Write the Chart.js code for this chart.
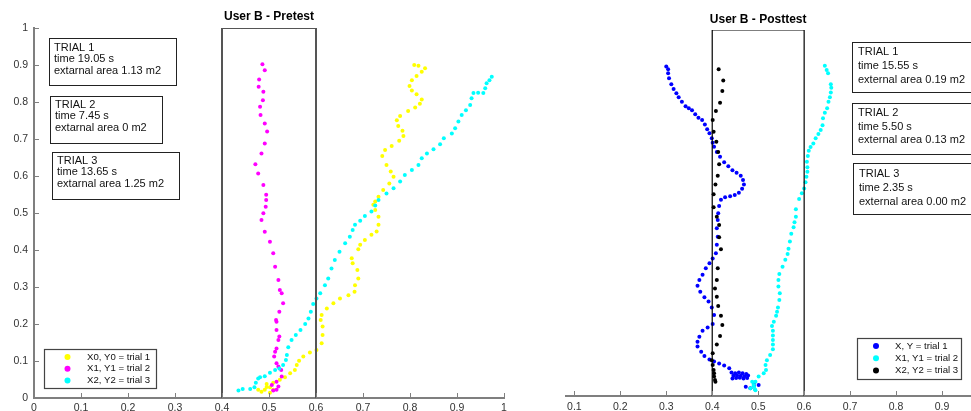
<!DOCTYPE html>
<html>
<head>
<meta charset="utf-8">
<script src="https://cdn.jsdelivr.net/npm/chart.js@4.4.0/dist/chart.umd.min.js"></script>
<style>
  html, body { margin: 0; padding: 0; background: #fff; overflow: hidden; width: 971px; height: 411px; }
  #left { position: absolute; left: 0; top: 0; }
  #right { position: absolute; left: 562px; top: 0; }
</style>
</head>
<body>
<canvas id="left" width="520" height="430"></canvas>
<canvas id="right" width="446" height="430"></canvas>
<script>
// ---- tick labels ----
const tickVals = [0, 0.1, 0.2, 0.3, 0.4, 0.5, 0.6, 0.7, 0.8, 0.9, 1];
const tickText = ['0', '0.1', '0.2', '0.3', '0.4', '0.5', '0.6', '0.7', '0.8', '0.9', '1'];

// ---- pretest (left) ----
// trial 1, yellow
const preX0 = [0.484,0.491,0.502,0.509,0.477,0.495,0.502,0.495,0.509,0.523,0.534,0.545,0.555,0.559,0.564,0.573,0.587,0.601,0.612,0.614,0.614,0.610,0.612,0.623,0.637,0.651,0.669,0.682,0.683,0.690,0.688,0.678,0.676,0.690,0.694,0.704,0.718,0.729,0.733,0.733,0.726,0.722,0.726,0.733,0.743,0.756,0.765,0.759,0.750,0.741,0.747,0.761,0.777,0.786,0.784,0.775,0.772,0.779,0.796,0.811,0.821,0.825,0.814,0.804,0.799,0.804,0.814,0.825,0.832,0.818,0.809];
const preY0 = [0.017,0.022,0.014,0.022,0.022,0.030,0.029,0.038,0.041,0.049,0.056,0.067,0.076,0.089,0.101,0.112,0.123,0.130,0.148,0.170,0.193,0.211,0.224,0.242,0.256,0.269,0.278,0.287,0.305,0.323,0.346,0.364,0.378,0.402,0.414,0.427,0.441,0.450,0.468,0.490,0.508,0.522,0.531,0.544,0.562,0.580,0.598,0.612,0.630,0.654,0.670,0.681,0.695,0.708,0.722,0.735,0.751,0.762,0.776,0.785,0.795,0.807,0.821,0.831,0.843,0.859,0.870,0.882,0.891,0.898,0.900];
// trial 2, magenta
const preX1 = [0.509,0.516,0.506,0.516,0.520,0.527,0.526,0.520,0.516,0.511,0.513,0.516,0.520,0.522,0.516,0.516,0.515,0.522,0.530,0.527,0.523,0.520,0.513,0.509,0.502,0.491,0.484,0.488,0.493,0.494,0.494,0.488,0.477,0.471,0.484,0.491,0.496,0.491,0.482,0.481,0.487,0.488,0.478,0.479,0.491,0.486];
const preY1 = [0.020,0.022,0.035,0.044,0.031,0.058,0.076,0.085,0.094,0.112,0.125,0.134,0.157,0.166,0.184,0.206,0.211,0.233,0.256,0.283,0.292,0.319,0.355,0.391,0.422,0.449,0.481,0.499,0.517,0.535,0.549,0.576,0.607,0.632,0.661,0.688,0.720,0.742,0.765,0.787,0.805,0.828,0.841,0.861,0.886,0.902];
// trial 3, cyan
const preX2 = [0.435,0.444,0.460,0.469,0.472,0.477,0.481,0.491,0.502,0.513,0.522,0.530,0.536,0.538,0.541,0.548,0.557,0.567,0.577,0.584,0.589,0.594,0.601,0.609,0.619,0.626,0.633,0.640,0.650,0.662,0.672,0.678,0.683,0.694,0.704,0.718,0.726,0.733,0.750,0.765,0.779,0.789,0.804,0.818,0.825,0.836,0.850,0.864,0.872,0.889,0.896,0.903,0.910,0.919,0.928,0.931,0.935,0.945,0.956,0.960,0.963,0.969,0.974];
const preY2 = [0.020,0.024,0.024,0.029,0.041,0.053,0.056,0.059,0.068,0.076,0.080,0.089,0.103,0.116,0.137,0.157,0.170,0.184,0.200,0.215,0.233,0.254,0.269,0.283,0.305,0.323,0.350,0.373,0.395,0.418,0.436,0.454,0.468,0.479,0.492,0.504,0.520,0.535,0.553,0.567,0.585,0.603,0.616,0.630,0.648,0.661,0.672,0.686,0.702,0.715,0.729,0.747,0.765,0.778,0.792,0.810,0.824,0.825,0.824,0.837,0.851,0.859,0.868];

// ---- posttest (right) ----
// trial 1, blue
const postX = [0.300,0.304,0.304,0.306,0.311,0.316,0.322,0.327,0.334,0.342,0.349,0.356,0.363,0.370,0.378,0.384,0.389,0.394,0.399,0.401,0.404,0.410,0.417,0.426,0.435,0.444,0.453,0.462,0.467,0.469,0.465,0.458,0.449,0.439,0.428,0.419,0.415,0.413,0.412,0.410,0.412,0.410,0.408,0.401,0.394,0.386,0.379,0.372,0.368,0.374,0.383,0.392,0.399,0.404,0.401,0.390,0.379,0.372,0.368,0.368,0.376,0.383,0.394,0.404,0.415,0.426,0.437,0.442,0.450,0.458,0.466,0.474,0.446,0.454,0.462,0.470,0.478,0.444,0.452,0.460,0.468,0.476,0.473,0.483,0.491,0.501,0.491];
const postY = [0.900,0.893,0.882,0.868,0.852,0.839,0.827,0.816,0.804,0.792,0.786,0.781,0.770,0.760,0.754,0.742,0.729,0.718,0.704,0.692,0.681,0.667,0.654,0.639,0.628,0.617,0.610,0.602,0.590,0.578,0.566,0.555,0.549,0.546,0.543,0.536,0.519,0.499,0.481,0.458,0.435,0.413,0.390,0.376,0.363,0.349,0.331,0.317,0.301,0.285,0.270,0.258,0.242,0.221,0.197,0.187,0.178,0.162,0.148,0.135,0.121,0.109,0.100,0.094,0.089,0.083,0.076,0.064,0.062,0.064,0.062,0.060,0.055,0.056,0.055,0.054,0.056,0.048,0.049,0.050,0.048,0.049,0.025,0.021,0.027,0.030,0.036];
// trial 2, cyan
const postX1 = [0.645,0.649,0.652,0.658,0.659,0.658,0.656,0.653,0.650,0.645,0.641,0.640,0.636,0.631,0.625,0.620,0.614,0.610,0.608,0.606,0.607,0.607,0.605,0.603,0.600,0.595,0.589,0.582,0.582,0.579,0.577,0.572,0.569,0.566,0.564,0.559,0.553,0.546,0.544,0.544,0.547,0.546,0.543,0.541,0.539,0.534,0.530,0.532,0.532,0.532,0.532,0.532,0.526,0.519,0.516,0.517,0.512,0.501,0.494,0.487,0.490,0.491,0.483,0.493,0.494];
const postY1 = [0.902,0.891,0.882,0.852,0.842,0.829,0.816,0.804,0.786,0.774,0.759,0.740,0.727,0.716,0.704,0.690,0.680,0.670,0.656,0.640,0.625,0.613,0.599,0.584,0.567,0.554,0.538,0.510,0.490,0.475,0.461,0.443,0.422,0.402,0.388,0.372,0.353,0.333,0.317,0.299,0.281,0.262,0.242,0.230,0.219,0.203,0.191,0.178,0.165,0.153,0.141,0.128,0.112,0.098,0.085,0.071,0.062,0.053,0.039,0.039,0.030,0.025,0.021,0.018,0.016];
// trial 3, black
const postX2 = [0.414,0.424,0.422,0.417,0.408,0.401,0.403,0.409,0.413,0.415,0.412,0.407,0.403,0.403,0.410,0.415,0.415,0.419,0.412,0.410,0.406,0.410,0.413,0.419,0.422,0.417,0.410,0.401,0.399,0.401,0.403,0.404,0.404,0.406,0.407];
const postY2 = [0.893,0.862,0.833,0.801,0.779,0.754,0.722,0.695,0.667,0.633,0.602,0.578,0.551,0.516,0.490,0.467,0.434,0.401,0.349,0.317,0.294,0.271,0.246,0.219,0.194,0.164,0.141,0.117,0.098,0.085,0.071,0.062,0.053,0.044,0.039];

// the target zone drawn as a box
const zoneX = [0.4, 0.4, 0.6, 0.6];
const zoneY = [0, 1, 1, 0];

// notes and legend text
const preNotes = [
  ['TRIAL 1', 'time 19.05 s', 'extarnal area 1.13 m2'],
  ['TRIAL 2', 'time 7.45 s', 'extarnal area 0 m2'],
  ['TRIAL 3', 'time 13.65 s', 'extarnal area 1.25 m2']
];
const postNotes = [
  ['TRIAL 1', 'time 15.55 s', 'external area 0.19 m2'],
  ['TRIAL 2', 'time 5.50 s', 'external area 0.13 m2'],
  ['TRIAL 3', 'time 2.35 s', 'external area 0.00 m2']
];
const preLegend = ['X0, Y0 = trial 1', 'X1, Y1 = trial 2', 'X2, Y2 = trial 3'];
const postLegend = ['X, Y = trial 1', 'X1, Y1 = trial 2', 'X2, Y2 = trial 3'];

const FONT = "'Liberation Sans', Arial, Helvetica, sans-serif";
Chart.defaults.font.family = FONT;

const pts = (xs, ys) => xs.map((x, i) => ({ x: x, y: ys[i] }));

function dots(data, color, order) {
  return {
    data: data,
    backgroundColor: color,
    borderWidth: 0,
    pointRadius: 2,
    pointHoverRadius: 2,
    order: order
  };
}

function zone(color, width) {
  return {
    data: pts(zoneX, zoneY),
    showLine: true,
    borderColor: color,
    borderWidth: width,
    pointRadius: 0,
    fill: false,
    order: 0
  };
}

// titles, inward ticks, text boxes, legend
const decor = {
  id: 'decor',
  afterDraw(chart, args, o) {
    const ctx = chart.ctx;
    const xs = chart.scales.x, ys = chart.scales.y;
    ctx.save();
    ctx.strokeStyle = '#808080';
    ctx.lineWidth = 1;
    xs.ticks.forEach(t => {
      const px = Math.round(xs.getPixelForValue(t.value)) + 0.5;
      ctx.beginPath(); ctx.moveTo(px, xs.top); ctx.lineTo(px, xs.top - 5); ctx.stroke();
    });
    if (ys.options.display) {
      ys.ticks.forEach(t => {
        const py = Math.round(ys.getPixelForValue(t.value)) + 0.5;
        ctx.beginPath(); ctx.moveTo(ys.right, py); ctx.lineTo(ys.right + 5, py); ctx.stroke();
      });
    }

    ctx.fillStyle = '#000';
    ctx.font = 'bold 12px ' + FONT;
    ctx.textAlign = 'center';
    ctx.textBaseline = 'middle';
    ctx.fillText(o.title, xs.getPixelForValue(0.5), o.titleY);

    ctx.textAlign = 'left';
    o.boxes.forEach(b => {
      ctx.fillStyle = '#fff';
      ctx.fillRect(b.x, b.y, b.w, b.h);
      ctx.strokeStyle = '#222';
      ctx.lineWidth = 1;
      ctx.strokeRect(b.x + 0.5, b.y + 0.5, b.w, b.h);
      ctx.fillStyle = '#111';
      ctx.font = '11px ' + FONT;
      b.lines.forEach((s, i) => ctx.fillText(s, b.x + b.pad, b.y + b.first + i * b.gap));
    });

    const L = o.legend;
    ctx.fillStyle = '#fff';
    ctx.fillRect(L.x, L.y, L.w, L.h);
    ctx.strokeStyle = '#444';
    ctx.lineWidth = 1.2;
    ctx.strokeRect(L.x + 0.5, L.y + 0.5, L.w, L.h);
    ctx.font = '9.6px ' + FONT;
    L.items.forEach((s, i) => {
      const cy = L.y + L.first + i * L.gap;
      ctx.fillStyle = L.colors[i];
      ctx.beginPath(); ctx.arc(L.x + L.mark, cy, 3, 0, Math.PI * 2); ctx.fill();
      ctx.fillStyle = '#111';
      ctx.fillText(s, L.x + L.text, cy);
    });
    ctx.restore();
  }
};

function axisX(min, ticks, h, pad) {
  return {
    type: 'linear', min: min, max: 1,
    grid: { display: false, drawTicks: false },
    border: { display: true, color: '#7f7f7f', width: 2 },
    afterBuildTicks: s => { s.ticks = ticks.map(v => ({ value: v })); },
    afterFit: s => { s.height = h; },
    ticks: {
      padding: pad, color: '#333', font: { size: 10.5 }, maxRotation: 0,
      callback: v => tickText[tickVals.indexOf(v)]
    }
  };
}

new Chart(document.getElementById('left'), {
  type: 'scatter',
  data: {
    datasets: [
      dots(pts(preX2, preY2), '#00ffff', 1),
      dots(pts(preX1, preY1), '#ff00ff', 2),
      dots(pts(preX0, preY0), '#ffff00', 3),
      zone('#555', 2)
    ]
  },
  options: {
    responsive: false,
    animation: false,
    events: [],
    layout: { padding: { top: 28, right: 16, left: 0, bottom: 0 } },
    scales: {
      x: axisX(0, tickVals, 32, 4),
      y: {
        type: 'linear', min: 0, max: 1,
        grid: { display: false, drawTicks: false },
        border: { display: true, color: '#7f7f7f', width: 2 },
        afterBuildTicks: s => { s.ticks = tickVals.map(v => ({ value: v })); },
        afterFit: s => { s.width = 34; },
        ticks: {
          padding: 6, color: '#333', font: { size: 10.5 },
          callback: v => tickText[tickVals.indexOf(v)]
        }
      }
    },
    plugins: {
      legend: { display: false },
      tooltip: { enabled: false },
      decor: {
        title: 'User B - Pretest', titleY: 17,
        boxes: [
          { x: 49, y: 38, w: 127, h: 47, pad: 5, first: 9.5, gap: 11.8, lines: preNotes[0] },
          { x: 50, y: 96, w: 112, h: 47, pad: 5, first: 8.5, gap: 11.8, lines: preNotes[1] },
          { x: 52, y: 152, w: 127, h: 47, pad: 5, first: 8.5, gap: 11.8, lines: preNotes[2] }
        ],
        legend: {
          x: 44, y: 349, w: 112, h: 39, mark: 23.5, text: 43, first: 8, gap: 11.7,
          items: preLegend, colors: ['#ffff00', '#ff00ff', '#00ffff']
        }
      }
    }
  },
  plugins: [decor]
});

new Chart(document.getElementById('right'), {
  type: 'scatter',
  data: {
    datasets: [
      dots(pts(postX2, postY2), '#000000', 1),
      dots(pts(postX1, postY1), '#00ffff', 2),
      dots(pts(postX, postY), '#0000ff', 3),
      zone('#000', 1.2)
    ]
  },
  options: {
    responsive: false,
    animation: false,
    events: [],
    layout: { padding: { top: 30, right: 20, left: 0, bottom: 0 } },
    scales: {
      x: axisX(0.082, tickVals.slice(1), 34, 5),
      y: { type: 'linear', min: 0, max: 1, display: false }
    },
    plugins: {
      legend: { display: false },
      tooltip: { enabled: false },
      decor: {
        title: 'User B - Posttest', titleY: 20,
        boxes: [
          { x: 290, y: 42, w: 130, h: 50, pad: 6, first: 10.3, gap: 13.8, lines: postNotes[0] },
          { x: 290, y: 103, w: 130, h: 51, pad: 6, first: 10.3, gap: 13.5, lines: postNotes[1] },
          { x: 291, y: 163, w: 130, h: 51, pad: 6, first: 11, gap: 13.8, lines: postNotes[2] }
        ],
        legend: {
          x: 295, y: 338, w: 104, h: 41, mark: 19, text: 38, first: 8, gap: 12.2,
          items: postLegend, colors: ['#0000ff', '#00ffff', '#000000']
        }
      }
    }
  },
  plugins: [decor]
});
</script>
</body>
</html>
